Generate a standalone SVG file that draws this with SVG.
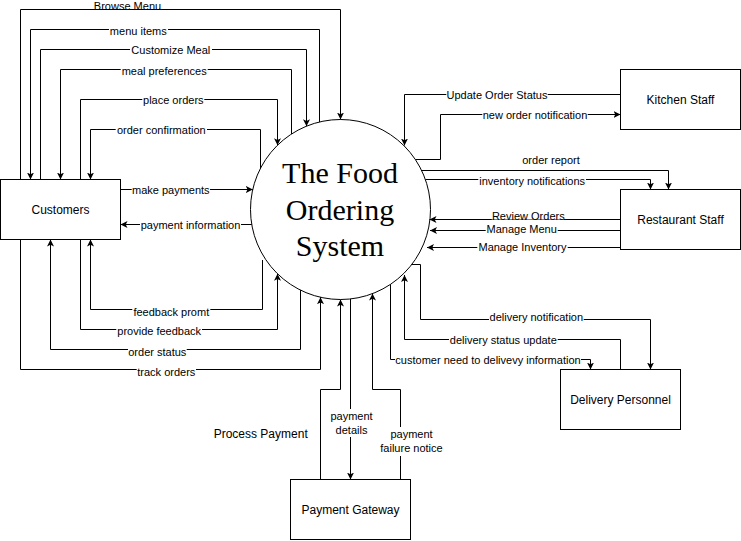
<svg xmlns="http://www.w3.org/2000/svg" width="741" height="541" viewBox="0 0 741 541">
<defs>
<style>
.edge{fill:none;stroke:#000;stroke-width:1}
.arr{marker-end:url(#arr)}
.bg{fill:#fff}
.lbl{font-family:"Liberation Sans",Arial,Helvetica,sans-serif;font-size:11px;fill:#000;text-anchor:middle}
.box{fill:#fff;stroke:#000;stroke-width:1}
.ntxt{font-family:"Liberation Sans",Arial,Helvetica,sans-serif;font-size:12px;fill:#000;text-anchor:middle}
.title{font-family:"Liberation Serif","Times New Roman",serif;font-size:30px;fill:#000;text-anchor:middle}
</style>
<marker id="arr" viewBox="0 0 10 10" refX="10" refY="5" markerWidth="7" markerHeight="7" markerUnits="userSpaceOnUse" orient="auto">
<path d="M0,0 L10,5 L0,10 L2.5,5 z" fill="#000"/>
</marker>
</defs>
<rect width="741" height="541" fill="#fff"/>

<g id="system">
<circle class="box" cx="340.5" cy="209.5" r="90"/>
<text class="title" x="340" y="183">The Food</text>
<text class="title" x="340" y="219.5">Ordering</text>
<text class="title" x="340" y="256">System</text>
</g>
<g id="customers">
<rect class="box" x="0.5" y="179.5" width="120" height="60"/>
<text class="ntxt" x="60.5" y="213.8">Customers</text>
</g>
<g id="kitchen-staff">
<rect class="box" x="620.5" y="69.5" width="120" height="60"/>
<text class="ntxt" x="680.5" y="103.8">Kitchen Staff</text>
</g>
<g id="restaurant-staff">
<rect class="box" x="620.5" y="189.5" width="120" height="60"/>
<text class="ntxt" x="680.5" y="223.8">Restaurant Staff</text>
</g>
<g id="delivery-personnel">
<rect class="box" x="560.5" y="369.5" width="120" height="60"/>
<text class="ntxt" x="620.5" y="403.8">Delivery Personnel</text>
</g>
<g id="payment-gateway">
<rect class="box" x="290.5" y="479.5" width="120" height="60"/>
<text class="ntxt" x="350.5" y="513.8">Payment Gateway</text>
</g>

<g id="connectors">
<path class="edge arr" d="M20.5,179.5 V9.5 H340.5 V119.5"/>
<path class="edge arr" d="M319.5,122 V29.5 H30.5 V179.5"/>
<path class="edge arr" d="M40.5,179.5 V49.5 H306.5 V126.2"/>
<path class="edge arr" d="M291.5,134 V69.5 H60.5 V179.5"/>
<path class="edge arr" d="M80.5,179.5 V99.5 H277.5 V145.2"/>
<path class="edge arr" d="M260.5,168.3 V129.5 H90.5 V179.5"/>
<path class="edge arr" d="M120.5,189.5 H252.8"/>
<path class="edge arr" d="M251.8,224.5 H120.5"/>
<path class="edge arr" d="M262.5,260 V309.5 H90.5 V239.5"/>
<path class="edge arr" d="M80.5,239.5 V329.5 H277.5 V273.8"/>
<path class="edge arr" d="M300.5,290.1 V349.5 H50.5 V239.5"/>
<path class="edge arr" d="M20.5,239.5 V369.5 H320.5 V297.2"/>
<path class="edge arr" d="M320.5,479.5 V389.5 H340.5 V299.5"/>
<path class="edge arr" d="M350.5,298.9 V479.5"/>
<path class="edge arr" d="M400.5,479.5 V389.5 H372.5 V293.6"/>
<path class="edge arr" d="M620.5,94.5 H404.5 V145.5"/>
<path class="edge arr" d="M415.3,159.5 H440.5 V114.5 H620.5"/>
<path class="edge arr" d="M421.6,170.5 H668.5 V189.5"/>
<path class="edge arr" d="M425.4,179.5 H650.5 V189.5"/>
<path class="edge arr" d="M620.5,219.5 H429.5"/>
<path class="edge arr" d="M620.5,230.5 H430"/>
<path class="edge arr" d="M620.5,247.5 H427"/>
<path class="edge arr" d="M411.7,264.5 H420.5 V319.5 H650.5 V369.5"/>
<path class="edge arr" d="M620.5,369.5 V339.5 H404.5 V275"/>
<path class="edge arr" d="M390.5,284.3 V359.5 H590.5 V369.5"/>
</g>

<g id="labels">
<rect class="bg" x="94" y="1" width="67" height="8"/>
<text class="lbl" x="127.5" y="10">Browse Menu</text>
<rect class="bg" x="109" y="25.5" width="59" height="12"/>
<text class="lbl" x="138.3" y="34.5">menu items</text>
<rect class="bg" x="130" y="45" width="82" height="12"/>
<text class="lbl" x="170.8" y="54">Customize Meal</text>
<rect class="bg" x="120.7" y="65.5" width="87" height="12"/>
<text class="lbl" x="164.2" y="74.5">meal preferences</text>
<rect class="bg" x="142.3" y="94.5" width="62" height="12"/>
<text class="lbl" x="173.3" y="103.5">place orders</text>
<rect class="bg" x="115.7" y="124.5" width="91.3" height="12"/>
<text class="lbl" x="161.3" y="133.5">order confirmation</text>
<rect class="bg" x="131.7" y="184.5" width="78.3" height="12"/>
<text class="lbl" x="170.8" y="193.5">make payments</text>
<rect class="bg" x="140" y="219.5" width="101" height="12"/>
<text class="lbl" x="190.5" y="228.5">payment information</text>
<rect class="bg" x="132.3" y="306.5" width="78" height="12"/>
<text class="lbl" x="171.3" y="315.5">feedback promt</text>
<rect class="bg" x="116.3" y="325.5" width="85.7" height="12"/>
<text class="lbl" x="159.2" y="334.5">provide feedback</text>
<rect class="bg" x="128" y="346.5" width="58.7" height="12"/>
<text class="lbl" x="157.3" y="355.5">order status</text>
<rect class="bg" x="136.7" y="367" width="59.3" height="12"/>
<text class="lbl" x="166.3" y="376">track orders</text>
<rect class="bg" x="446.3" y="90" width="101.4" height="12"/>
<text class="lbl" x="497" y="99">Update Order Status</text>
<rect class="bg" x="482.3" y="109.5" width="105.4" height="12"/>
<text class="lbl" x="535" y="118.5">new order notification</text>
<text class="lbl" x="551" y="163.5">order report</text>
<rect class="bg" x="478.3" y="176" width="107.7" height="12"/>
<text class="lbl" x="532.2" y="185">inventory notifications</text>
<rect class="bg" x="491.7" y="210.5" width="72.3" height="9"/>
<text class="lbl" x="528.3" y="219.5">Review Orders</text>
<rect class="bg" x="485.7" y="224" width="72" height="12"/>
<text class="lbl" x="521.7" y="233">Manage Menu</text>
<rect class="bg" x="477.3" y="242" width="90.4" height="12"/>
<text class="lbl" x="522.5" y="251">Manage Inventory</text>
<rect class="bg" x="489" y="312" width="94.7" height="12"/>
<text class="lbl" x="536.3" y="321">delivery notification</text>
<rect class="bg" x="449" y="334.5" width="108.7" height="12"/>
<text class="lbl" x="503.3" y="343.5">delivery status update</text>
<rect class="bg" x="395" y="355" width="186" height="12"/>
<text class="lbl" x="488" y="364">customer need to delivevy information</text>
<rect class="bg" x="330" y="409" width="43" height="28"/>
<text class="lbl" x="351.5" y="420">payment</text>
<text class="lbl" x="351.5" y="434">details</text>
<rect class="bg" x="380" y="427" width="63" height="29"/>
<text class="lbl" x="411.5" y="438">payment</text>
<text class="lbl" x="411.5" y="452">failure notice</text>
<text class="ntxt" x="260.7" y="438">Process Payment</text>
</g>
</svg>
